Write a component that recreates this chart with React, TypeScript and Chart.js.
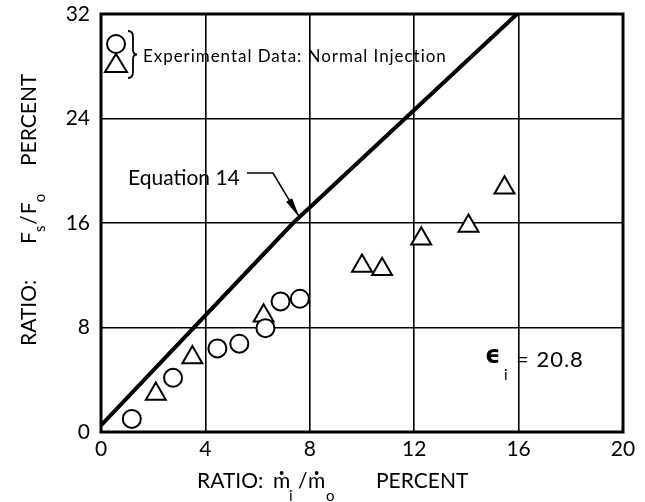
import React, { useEffect, useRef } from "react";
import { Chart, registerables } from "chart.js";

Chart.register(...registerables);

const FONT = "Lato";

// Axis ticks
const xTicks = [0, 4, 8, 12, 16, 20];
const yTicks = [0, 8, 16, 24, 32];

// Experimental data (circles)
const circleX = [1.18, 2.76, 4.46, 5.3, 6.3, 6.88, 7.62];
const circleY = [1.0, 4.15, 6.4, 6.76, 7.95, 10.0, 10.2];

// Experimental data (triangles)
const triangleX = [2.1, 3.5, 6.23, 10.0, 10.77, 12.27, 14.08, 15.46];
const triangleY = [2.9, 5.7, 8.9, 12.7, 12.46, 14.8, 15.77, 18.7];

// Equation 14 line
const eqX = [0, 7.36, 15.94];
const eqY = [0.5, 16, 32];
const eqArrowX = 7.6;

// Texts
const legendText = "Experimental Data: Normal Injection";
const eqLabel = "Equation 14";
const epsSymbol = "\u03F5";
const epsSub = "i";
const epsValue = "= 20.8";

function lineYAt(x: number): number {
  for (let i = 0; i < eqX.length - 1; i++) {
    if (x >= eqX[i] && x <= eqX[i + 1]) {
      const t = (x - eqX[i]) / (eqX[i + 1] - eqX[i]);
      return eqY[i] + t * (eqY[i + 1] - eqY[i]);
    }
  }
  return eqY[eqY.length - 1];
}

function drawM(ctx: CanvasRenderingContext2D, x: number, y: number, font: string) {
  ctx.font = font;
  ctx.fillText("m", x, y);
  const w = ctx.measureText("m").width;
  ctx.beginPath();
  ctx.arc(x + w / 2, y - 15, 1.9, 0, Math.PI * 2);
  ctx.fill();
  return w;
}

type Piece = { t: string; f: string; dy: number; gap: number };

// draws a run of pieces along the rotated baseline, starting at screen y = bottom
function drawRun(ctx: CanvasRenderingContext2D, pieces: Piece[], bottom: number) {
  let cx = -bottom;
  pieces.forEach((p) => {
    cx += p.gap;
    ctx.font = p.f;
    ctx.fillText(p.t, cx, p.dy);
    cx += ctx.measureText(p.t).width;
  });
}

const annotPlugin = {
  id: "annot",
  beforeDatasetsDraw(chart: any) {
    const { ctx, chartArea: a } = chart;
    ctx.save();
    ctx.strokeStyle = "#000";
    ctx.lineWidth = 3;
    ctx.strokeRect(a.left, a.top, a.right - a.left, a.bottom - a.top);
    ctx.restore();
  },
  afterDraw(chart: any) {
    const { ctx, chartArea: a, scales } = chart;
    const xs = scales.x;
    const ys = scales.y;
    const L = a.left;
    const T = a.top;
    ctx.save();
    ctx.fillStyle = "#000";
    ctx.strokeStyle = "#000";

    // Legend symbols
    ctx.lineWidth = 2;
    ctx.beginPath();
    ctx.arc(L + 15, T + 30, 9, 0, Math.PI * 2);
    ctx.fillStyle = "#fff";
    ctx.fill();
    ctx.stroke();
    ctx.beginPath();
    ctx.moveTo(L + 4, T + 58);
    ctx.lineTo(L + 26, T + 58);
    ctx.lineTo(L + 15, T + 40);
    ctx.closePath();
    ctx.fill();
    ctx.stroke();
    ctx.fillStyle = "#000";

    // Brace
    ctx.lineWidth = 1.8;
    const bx = L + 30;
    const by0 = T + 17;
    const by1 = T + 64;
    const bm = (by0 + by1) / 2;
    ctx.beginPath();
    ctx.moveTo(bx - 3, by0);
    ctx.quadraticCurveTo(bx + 2, by0, bx + 2, by0 + 6);
    ctx.lineTo(bx + 2, bm - 5);
    ctx.quadraticCurveTo(bx + 2, bm, bx + 6, bm);
    ctx.quadraticCurveTo(bx + 2, bm, bx + 2, bm + 5);
    ctx.lineTo(bx + 2, by1 - 6);
    ctx.quadraticCurveTo(bx + 2, by1, bx - 3, by1);
    ctx.stroke();

    // Legend text
    ctx.font = `17px ${FONT}`;
    ctx.textBaseline = "middle";
    ctx.textAlign = "left";
    const natural = ctx.measureText(legendText).width;
    const target = 304;
    (ctx as any).letterSpacing = `${Math.max(0, (target - natural) / legendText.length)}px`;
    ctx.fillText(legendText, L + 42, T + 43);
    (ctx as any).letterSpacing = "0px";

    // Equation 14 label and arrow
    ctx.font = `21px ${FONT}`;
    ctx.textBaseline = "alphabetic";
    ctx.fillText(eqLabel, L + 27, T + 171);
    const tipX = xs.getPixelForValue(eqArrowX);
    const tipY = ys.getPixelForValue(lineYAt(eqArrowX));
    const e1x = L + 146;
    const e1y = T + 159;
    const e2x = L + 172;
    const e2y = T + 159;
    ctx.lineWidth = 1.5;
    ctx.beginPath();
    ctx.moveTo(e1x, e1y);
    ctx.lineTo(e2x, e2y);
    ctx.lineTo(tipX, tipY);
    ctx.stroke();
    const ang = Math.atan2(tipY - e2y, tipX - e2x);
    const hl = 20;
    const hw = 3.5;
    const bxh = tipX - hl * Math.cos(ang);
    const byh = tipY - hl * Math.sin(ang);
    ctx.beginPath();
    ctx.moveTo(tipX, tipY);
    ctx.lineTo(bxh + hw * Math.sin(ang), byh - hw * Math.cos(ang));
    ctx.lineTo(bxh - hw * Math.sin(ang), byh + hw * Math.cos(ang));
    ctx.closePath();
    ctx.fill();

    // Epsilon annotation
    ctx.font = `bold 24px "DejaVu Sans"`;
    ctx.fillText(epsSymbol, L + 384, T + 349);
    ctx.font = `15px ${FONT}`;
    ctx.fillText(epsSub, L + 403, T + 366);
    ctx.font = `22px ${FONT}`;
    (ctx as any).letterSpacing = "1px";
    ctx.fillText(epsValue, L + 415, T + 353);
    (ctx as any).letterSpacing = "0px";

    // X axis title
    const big = `21px ${FONT}`;
    const small = `15px ${FONT}`;
    const xb = 488;
    ctx.font = big;
    ctx.fillText("RATIO:", 197, xb);
    drawM(ctx, 273, xb, big);
    ctx.font = small;
    ctx.fillText("i", 289, xb + 13);
    ctx.font = big;
    ctx.fillText("/", 298, xb);
    drawM(ctx, 308, xb, big);
    ctx.font = small;
    ctx.fillText("o", 326, xb + 13);
    ctx.font = big;
    ctx.fillText("PERCENT", 376, xb);

    // Y axis title (rotated)
    ctx.save();
    ctx.translate(36, 0);
    ctx.rotate(-Math.PI / 2);
    drawRun(ctx, [{ t: "RATIO:", f: big, dy: 0, gap: 0 }], 346);
    drawRun(
      ctx,
      [
        { t: "F", f: big, dy: 0, gap: 0 },
        { t: "s", f: small, dy: 9, gap: 0 },
        { t: "/", f: big, dy: 0, gap: 1 },
        { t: "F", f: big, dy: 0, gap: 1 },
        { t: "o", f: small, dy: 9, gap: 0 },
      ],
      244
    );
    drawRun(ctx, [{ t: "PERCENT", f: big, dy: 0, gap: 0 }], 166);
    ctx.restore();

    ctx.restore();
  },
};

function zeroPadding(s: any) {
  s.paddingTop = 0;
  s.paddingBottom = 0;
  s.paddingLeft = 0;
  s.paddingRight = 0;
}

export default function App() {
  const ref = useRef<HTMLCanvasElement | null>(null);

  useEffect(() => {
    document.body.style.margin = "0";
    const canvas = ref.current;
    if (!canvas) return;
    const circles = circleX.map((x, i) => ({ x, y: circleY[i] }));
    const triangles = triangleX.map((x, i) => ({ x, y: triangleY[i] }));
    const eq = eqX.map((x, i) => ({ x, y: eqY[i] }));

    const tickFont = { family: FONT, size: 21 };

    const chart = new Chart(canvas, {
      type: "scatter",
      data: {
        datasets: [
          {
            data: circles,
            pointStyle: "circle",
            pointRadius: 9,
            backgroundColor: "#fff",
            borderColor: "#000",
            borderWidth: 2,
            order: 1,
          },
          {
            data: triangles,
            pointStyle: "triangle",
            pointRadius: 11.5,
            backgroundColor: "#fff",
            borderColor: "#000",
            borderWidth: 2,
            order: 1,
          },
          {
            data: eq,
            showLine: true,
            borderColor: "#000",
            borderWidth: 4,
            pointRadius: 0,
            fill: false,
            tension: 0,
            borderJoinStyle: "round",
            order: 3,
          } as any,
        ],
      },
      options: {
        animation: false,
        responsive: true,
        maintainAspectRatio: false,
        layout: { padding: { top: 14, right: 22, left: 0, bottom: 0 } },
        plugins: {
          legend: { display: false },
          tooltip: { enabled: false },
        },
        scales: {
          x: {
            type: "linear",
            min: 0,
            max: 20,
            afterBuildTicks: (s: any) => {
              s.ticks = xTicks.map((v) => ({ value: v }));
            },
            afterFit: (s: any) => {
              s.height = 70;
              zeroPadding(s);
            },
            grid: { color: "#000", lineWidth: 1.6, drawTicks: false },
            border: { display: false },
            ticks: { color: "#000", font: tickFont, padding: 5, maxRotation: 0, autoSkip: false },
          },
          y: {
            type: "linear",
            min: 0,
            max: 32,
            afterBuildTicks: (s: any) => {
              s.ticks = yTicks.map((v) => ({ value: v }));
            },
            afterFit: (s: any) => {
              s.width = 101;
              zeroPadding(s);
            },
            grid: { color: "#000", lineWidth: 1.6, drawTicks: false },
            border: { display: false },
            ticks: { color: "#000", font: tickFont, padding: 11, autoSkip: false },
          },
        },
      },
      plugins: [annotPlugin],
    });
    return () => chart.destroy();
  }, []);

  return (
    <div style={{ width: 645, height: 502, position: "relative", background: "#fff" }}>
      <canvas ref={ref} />
    </div>
  );
}
